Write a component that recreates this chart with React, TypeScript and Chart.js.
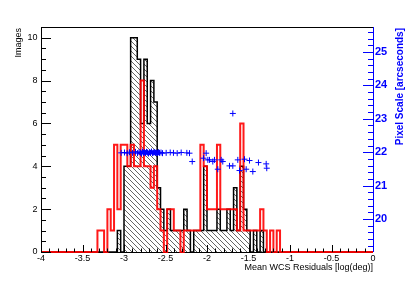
import React, { useEffect, useRef } from "react";
import { Chart, registerables } from "chart.js";

Chart.register(...registerables);

// ---- data ----
const binLow = [
  -3.32, -3.28, -3.24, -3.2, -3.16, -3.12, -3.08, -3.04, -3.0, -2.96,
  -2.92, -2.88, -2.84, -2.8, -2.76, -2.72, -2.68, -2.64, -2.6, -2.56,
  -2.52, -2.48, -2.44, -2.4, -2.36, -2.32, -2.28, -2.24, -2.2, -2.16,
  -2.12, -2.08, -2.04, -2.0, -1.96, -1.92, -1.88, -1.84, -1.8, -1.76,
  -1.72, -1.68, -1.64, -1.6, -1.56, -1.52, -1.48, -1.44, -1.4, -1.36,
  -1.32, -1.28, -1.24, -1.2, -1.16, -1.12, -1.08,
];
const BIN_WIDTH = 0.04;

const imagesAll = [
  0, 0, 0, 0, 0, 0, 0, 1, 0, 4,
  4, 10, 10, 9, 6, 9, 6, 8, 7, 3,
  2, 1, 2, 1, 1, 1, 1, 2, 1, 0,
  1, 1, 1, 4, 1, 1, 1, 2, 1, 1,
  2, 1, 3, 1, 4, 2, 1, 0, 1, 0,
  1, 0, 0, 0, 0, 0, 0,
];

const imagesRed = [
  0, 1, 1, 0, 2, 1, 5, 2, 5, 5,
  4, 5, 4, 4, 8, 4, 4, 3, 4, 2,
  1, 0, 2, 2, 1, 1, 0, 1, 1, 1,
  1, 1, 5, 4, 2, 2, 2, 5, 2, 2,
  2, 2, 2, 1, 6, 1, 1, 1, 1, 1,
  2, 1, 0, 1, 0, 1, 0,
];

const residualX = [
  -3.034, -2.994, -2.961, -2.934, -2.898, -2.861, -2.837, -2.819, -2.801, -2.789,
  -2.777, -2.765, -2.753, -2.741, -2.729, -2.717, -2.705, -2.693, -2.681, -2.669,
  -2.657, -2.645, -2.633, -2.62, -2.608, -2.596, -2.584, -2.572, -2.554, -2.536,
  -2.492, -2.443, -2.404, -2.359, -2.311, -2.243, -2.211,
  -2.178, -2.042, -2.01, -1.99, -1.97, -1.93, -1.91, -1.87, -1.829, -1.81,
  -1.729, -1.689, -1.689, -1.629, -1.608, -1.548, -1.528, -1.488, -1.448, -1.38,
  -1.287, -1.28,
];
const pixelScale = [
  21.98, 21.99, 21.97, 22.0, 21.98, 22.01, 21.97, 22.0, 21.99, 21.96,
  22.02, 21.98, 22.0, 21.97, 22.01, 21.99, 21.96, 22.0, 21.98, 22.02,
  21.97, 21.99, 22.0, 21.98, 21.99, 21.97, 22.0, 21.98, 21.99, 21.97,
  21.98, 21.99, 21.98, 21.97, 21.99, 21.98, 21.97,
  21.72, 21.82, 21.97, 21.77, 21.77, 21.72, 21.77, 21.49, 21.77, 21.72,
  21.59, 21.59, 23.16, 21.77, 21.45, 21.79, 21.49, 21.75, 21.42, 21.69,
  21.65, 21.52,
];

const xTicks = [-4, -3.5, -3, -2.5, -2, -1.5, -1, -0.5, 0];
const leftTicks = [0, 2, 4, 6, 8, 10];
const rightTicks = [20, 21, 22, 23, 24, 25];

const X_MIN = -4;
const X_MAX = 0;
const Y_MAX = 10.5;
const Y2_MIN = 19.01;
const Y2_MAX = 25.75;

const FONT = "'Liberation Sans', Arial, Helvetica, sans-serif";

function stepPoints(values: number[]) {
  const pts: { x: number; y: number }[] = [{ x: X_MIN, y: 0 }];
  values.forEach((v, i) => pts.push({ x: binLow[i], y: v }));
  pts.push({ x: binLow[binLow.length - 1] + BIN_WIDTH, y: 0 });
  pts.push({ x: X_MAX, y: 0 });
  return pts;
}

function makeHatch(): CanvasPattern | string {
  const c = document.createElement("canvas");
  const s = 5;
  c.width = s;
  c.height = s;
  const g = c.getContext("2d");
  if (!g) return "#999";
  g.strokeStyle = "#555";
  g.lineWidth = 0.9;
  g.beginPath();
  g.moveTo(-1, -1);
  g.lineTo(s + 1, s + 1);
  g.moveTo(-1, s - 1);
  g.lineTo(1, s + 1);
  g.moveTo(s - 1, -1);
  g.lineTo(s + 1, 1);
  g.stroke();
  return g.createPattern(c, "repeat") || "#999";
}

const rootAxes = {
  id: "rootAxes",
  beforeDatasetsDraw(chart: any) {
    const { ctx, chartArea: a } = chart;
    ctx.save();
    ctx.strokeStyle = "#000";
    ctx.lineWidth = 1;
    ctx.beginPath();
    ctx.moveTo(a.left + 0.5, a.bottom);
    ctx.lineTo(a.left + 0.5, a.top + 0.5);
    ctx.lineTo(a.right, a.top + 0.5);
    ctx.moveTo(a.left, a.bottom + 0.5);
    ctx.lineTo(a.right, a.bottom + 0.5);
    ctx.stroke();
    ctx.restore();
  },
  afterDatasetsDraw(chart: any) {
    const { ctx, chartArea: a, scales } = chart;
    const sx = scales.x;
    const sy = scales.y;
    const sy2 = scales.y2;
    ctx.save();
    ctx.lineWidth = 1;
    ctx.strokeStyle = "#000";
    ctx.beginPath();
    for (let k = 0; k <= 40; k++) {
      const v = X_MIN + k * 0.1;
      const px = Math.round(sx.getPixelForValue(v)) + 0.5;
      const len = k % 5 === 0 ? 7 : 3.5;
      ctx.moveTo(px, a.bottom);
      ctx.lineTo(px, a.bottom - len);
    }
    for (let k = 0; k <= 21; k++) {
      const v = k * 0.5;
      if (v > Y_MAX) break;
      const py = Math.round(sy.getPixelForValue(v)) + 0.5;
      const len = k % 4 === 0 ? 10 : 5;
      ctx.moveTo(a.left, py);
      ctx.lineTo(a.left + len, py);
    }
    ctx.stroke();
    ctx.strokeStyle = "#0000ff";
    ctx.beginPath();
    ctx.moveTo(a.right + 0.5, a.top);
    ctx.lineTo(a.right + 0.5, a.bottom);
    for (let k = 95; k <= 129; k++) {
      const v = k * 0.2;
      if (v < Y2_MIN || v > Y2_MAX) continue;
      const py = Math.round(sy2.getPixelForValue(v)) + 0.5;
      const len = k % 5 === 0 ? 10 : 5;
      ctx.moveTo(a.right, py);
      ctx.lineTo(a.right - len, py);
    }
    ctx.stroke();
    ctx.restore();
  },
  afterDraw(chart: any) {
    const { ctx, chartArea: a } = chart;
    ctx.save();
    ctx.fillStyle = "#000";
    ctx.font = `9px ${FONT}`;
    ctx.textAlign = "right";
    ctx.textBaseline = "middle";
    ctx.fillText("Mean WCS Residuals [log(deg)]", a.right, 267.5);
    ctx.save();
    ctx.translate(19, a.top + 1);
    ctx.rotate(-Math.PI / 2);
    ctx.textAlign = "right";
    ctx.fillText("Images", 0, 0);
    ctx.restore();
    ctx.save();
    ctx.fillStyle = "#0000ff";
    ctx.font = `bold 10px ${FONT}`;
    ctx.translate(400, a.top + 1);
    ctx.rotate(-Math.PI / 2);
    ctx.textAlign = "right";
    ctx.fillText("Pixel Scale [arcseconds]", 0, 0);
    ctx.restore();
    ctx.restore();
  },
};

export default function App() {
  const ref = useRef<HTMLCanvasElement | null>(null);

  useEffect(() => {
    const canvas = ref.current;
    if (!canvas) return;
    const hatch = makeHatch();
    const chart = new Chart(canvas, {
      type: "line",
      data: {
        datasets: [
          {
            label: "pixel scale",
            data: residualX.map((x, i) => ({ x, y: pixelScale[i] })),
            yAxisID: "y2",
            showLine: false,
            pointStyle: "cross",
            pointRadius: 3,
            pointBorderWidth: 1,
            pointBorderColor: "#0000ff",
            pointBackgroundColor: "#0000ff",
            borderColor: "#0000ff",
            order: 1,
          } as any,
          {
            label: "red",
            data: stepPoints(imagesRed),
            yAxisID: "y",
            stepped: "after",
            borderColor: "rgba(255,0,0,0.9)",
            borderWidth: 2,
            pointRadius: 0,
            fill: false,
            clip: false,
            order: 2,
          } as any,
          {
            label: "all",
            data: stepPoints(imagesAll),
            yAxisID: "y",
            stepped: "after",
            borderColor: "#000",
            borderWidth: 1.5,
            pointRadius: 0,
            fill: "origin",
            backgroundColor: hatch,
            clip: false,
            order: 3,
          } as any,
        ],
      },
      options: {
        animation: false,
        responsive: false,
        maintainAspectRatio: false,
        events: [],
        layout: { padding: { top: 27, left: 0, right: 0, bottom: 0 } },
        plugins: {
          legend: { display: false },
          tooltip: { enabled: false },
        },
        scales: {
          x: {
            type: "linear",
            position: "bottom",
            min: X_MIN,
            max: X_MAX,
            grid: { display: false, drawTicks: false },
            border: { display: false },
            afterBuildTicks: (s: any) => {
              s.ticks = xTicks.map((v) => ({ value: v }));
            },
            afterFit: (s: any) => {
              s.height = 29;
            },
            ticks: {
              autoSkip: false,
              maxRotation: 0,
              padding: 1,
              color: "#000",
              font: { family: FONT, size: 9 },
              callback: (v: any) => String(v),
            },
          },
          y: {
            type: "linear",
            position: "left",
            min: 0,
            max: Y_MAX,
            grid: { display: false, drawTicks: false },
            border: { display: false },
            afterBuildTicks: (s: any) => {
              s.ticks = leftTicks.map((v) => ({ value: v }));
            },
            afterFit: (s: any) => {
              s.width = 41;
            },
            ticks: {
              padding: 3.5,
              color: "#000",
              font: { family: FONT, size: 9 },
              callback: (v: any) => String(v),
            },
          },
          y2: {
            type: "linear",
            position: "right",
            min: Y2_MIN,
            max: Y2_MAX,
            grid: { display: false, drawTicks: false },
            border: { display: false },
            afterBuildTicks: (s: any) => {
              s.ticks = rightTicks.map((v) => ({ value: v }));
            },
            afterFit: (s: any) => {
              s.width = 42;
            },
            ticks: {
              padding: 2,
              color: "#0000ff",
              font: { family: FONT, size: 11, weight: "bold" },
              callback: (v: any) => String(v),
            },
          },
        },
      } as any,
      plugins: [rootAxes],
    });
    return () => chart.destroy();
  }, []);

  return (
    <canvas
      ref={ref}
      width={415}
      height={281}
      style={{ position: "fixed", left: 0, top: 0, width: 415, height: 281, display: "block" }}
    />
  );
}
